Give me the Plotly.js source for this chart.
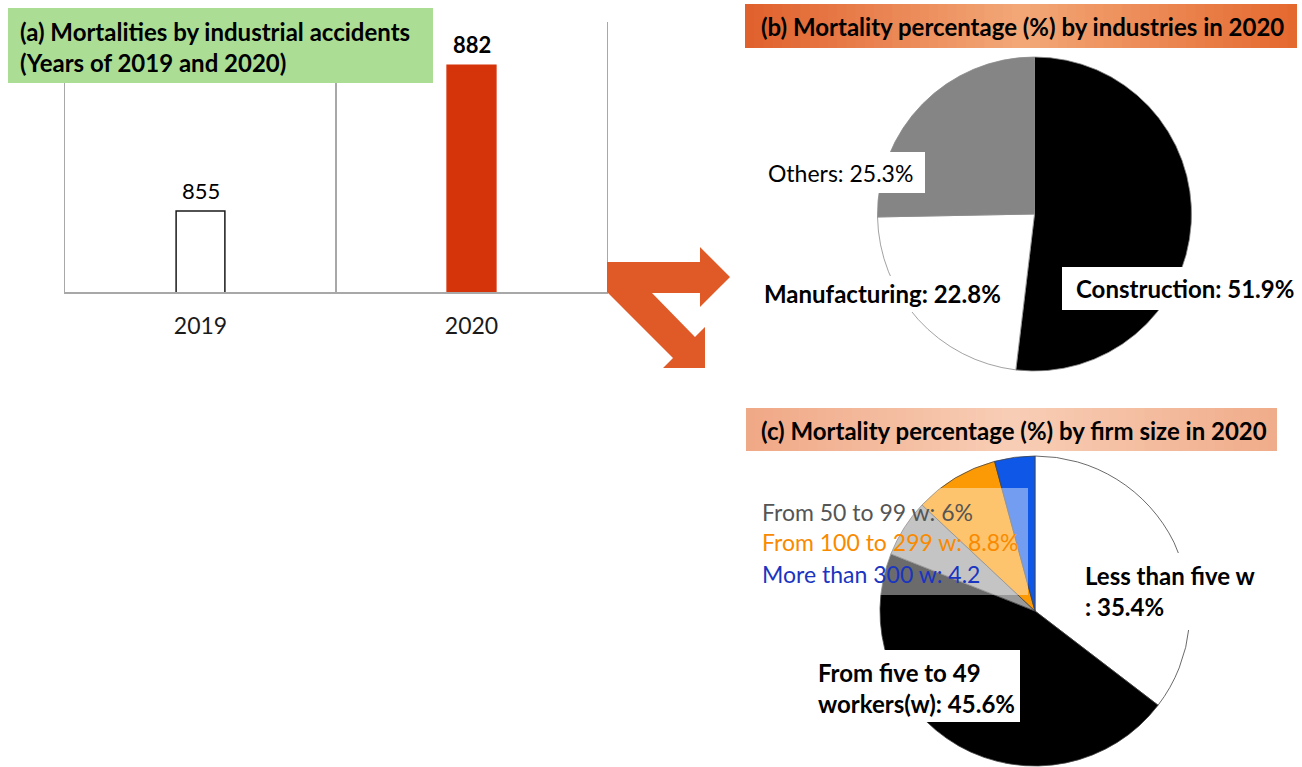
<!DOCTYPE html>
<html><head><meta charset="utf-8">
<script src="https://cdn.plot.ly/plotly-3.0.1.min.js"></script>
<style>html,body{margin:0;padding:0;background:#fff}</style>
</head><body>
<div id="chart" style="width:1302px;height:767px"></div>
<script>
// ---------- data ----------
const years = ['2019', '2020'];
const deaths = [855, 882];
const industryLabels = ['Construction', 'Manufacturing', 'Others'];
const industryPct = [51.9, 22.8, 25.3];
const sizeLabels = ['Less than five w', 'From five to 49 workers(w)', 'From 50 to 99 w', 'From 100 to 299 w', 'More than 300 w'];
const sizePct = [35.4, 45.6, 6, 8.8, 4.2];

// ---------- helpers ----------
const W = 1302, H = 767;
const px = x => x / W;
const py = y => 1 - y / H;
const FONT = 'Lato, "Open Sans", sans-serif';

function rect(x0, y0, x1, y1, color, extra) {
  return Object.assign({type: 'rect', xref: 'paper', yref: 'paper', x0: px(x0), x1: px(x1),
    y0: py(y1), y1: py(y0), fillcolor: color, line: {width: 0}, layer: 'above'}, extra || {});
}
function lerp(a, b, t) { return a + (b - a) * t; }
function gradRect(x0, y0, x1, y1, stops, n) {
  const out = [];
  for (let i = 0; i < n; i++) {
    const t = (i + 0.5) / n;
    let k = 0;
    while (k < stops.length - 2 && t > stops[k + 1][0]) k++;
    const s0 = stops[k], s1 = stops[k + 1];
    const u = (t - s0[0]) / (s1[0] - s0[0]);
    const c = [0, 1, 2].map(j => Math.round(lerp(s0[1][j], s1[1][j], Math.max(0, Math.min(1, u)))));
    const a = lerp(x0, x1, i / n), b = lerp(x0, x1, (i + 1) / n) + 0.8;
    out.push(rect(a, y0, Math.min(b, x1), y1, `rgb(${c[0]},${c[1]},${c[2]})`));
  }
  return out;
}
function label(x, y, text, opts) {
  return Object.assign({xref: 'paper', yref: 'paper', x: px(x), y: py(y), text: text,
    showarrow: false, xanchor: 'left', yanchor: 'middle', align: 'left',
    font: {family: FONT, size: 23, color: '#000'}}, opts || {});
}
function poly(pts) {
  return 'M ' + pts.map(p => px(p[0]).toFixed(5) + ',' + py(p[1]).toFixed(5)).join(' L ') + ' Z';
}

// ---------- traces ----------
const barTrace = {
  type: 'bar', x: years, y: deaths, width: 0.18,
  marker: {color: ['#ffffff', '#d5330a'], line: {color: ['#1a1a1a', '#d5330a'], width: 1.5}},
  hoverinfo: 'x+y', xaxis: 'x', yaxis: 'y'
};
const pieB = {
  type: 'pie', values: industryPct, labels: industryLabels, sort: false,
  direction: 'clockwise', rotation: 0, textinfo: 'none', hoverinfo: 'label+percent',
  domain: {x: [px(877.5), px(1191.5)], y: [py(371), py(57)]},
  marker: {colors: ['#000000', '#ffffff', '#858585'], line: {color: '#8a8a8a', width: 0.8}}
};
const pieC = {
  type: 'pie', values: sizePct, labels: sizeLabels, sort: false,
  direction: 'clockwise', rotation: 0, textinfo: 'none', hoverinfo: 'label+percent',
  domain: {x: [px(880), px(1190)], y: [py(766), py(456)]},
  marker: {colors: ['#ffffff', '#000000', '#9a9a9a', '#fb9a05', '#0f57e6'], line: {color: '#444444', width: 0.8}}
};

// ---------- shapes ----------
const shapes = [];
shapes.push(rect(8, 8, 433, 83, '#abdd95'));
shapes.push(...gradRect(745, 4, 1297, 48, [[0, [224, 96, 44]], [0.5, [243, 168, 120]], [1, [228, 104, 46]]], 60));
shapes.push(...gradRect(746, 408, 1277, 451, [[0, [240, 168, 134]], [0.5, [248, 206, 182]], [1, [240, 172, 138]]], 60));
shapes.push({type: 'path', xref: 'paper', yref: 'paper', layer: 'above', fillcolor: '#e05a28', line: {width: 0},
  path: poly([[607, 262], [700, 262], [700, 247], [730, 277], [700, 307], [700, 293], [652, 293],
              [695, 337], [705, 327], [705, 368], [663, 368], [673, 358], [607, 292]])});
shapes.push(rect(761, 152, 925, 193, '#ffffff'));          // Others
shapes.push(rect(755, 276, 1005, 312, '#ffffff'));         // Manufacturing
shapes.push(rect(1062, 267, 1289, 310, '#ffffff'));        // Construction
shapes.push(rect(755, 488, 1028, 595, 'rgba(255,255,255,0.42)')); // legend overlay
shapes.push(rect(1075, 553, 1265, 630, '#ffffff'));        // Less than five
shapes.push(rect(805, 650, 1020, 722, '#ffffff'));         // five to 49

// ---------- annotations ----------
const ann = [];
ann.push(label(18, 47, '<b>(a) Mortalities by industrial accidents<br>(Years of 2019 and 2020)</b>', {font: {family: FONT, size: 24, color: '#000'}}));
ann.push(label(1022, 26, '<b>(b) Mortality percentage (%) by industries in 2020</b>', {xanchor: 'center', font: {family: FONT, size: 24, color: '#000'}}));
ann.push(label(1014, 430, '<b>(c) Mortality percentage (%) by firm size in 2020</b>', {xanchor: 'center', font: {family: FONT, size: 24, color: '#000'}}));
deaths.forEach((v, i) => {
  ann.push({xref: 'x', yref: 'y', x: i, y: v, text: i === 1 ? '<b>' + v + '</b>' : String(v),
    showarrow: false, yanchor: 'middle', yshift: 21, font: {family: FONT, size: 22, color: '#000'}});
});
ann.push(label(766, 173, industryLabels[2] + ': ' + industryPct[2] + '%'));
ann.push(label(762, 293, '<b>' + industryLabels[1] + ': ' + industryPct[1] + '%</b>', {font: {family: FONT, size: 24, color: '#000'}}));
ann.push(label(1074, 289, '<b>' + industryLabels[0] + ': ' + industryPct[0].toFixed(1) + '%</b>', {font: {family: FONT, size: 24, color: '#000'}}));
ann.push(label(760, 512, sizeLabels[2] + ': ' + sizePct[2] + '%', {font: {family: FONT, size: 23, color: '#555555'}}));
ann.push(label(760, 542, sizeLabels[3] + ': ' + sizePct[3] + '%', {font: {family: FONT, size: 23, color: '#f98a00'}}));
ann.push(label(760, 574, sizeLabels[4] + ': ' + sizePct[4], {font: {family: FONT, size: 23, color: '#1a35c0'}}));
ann.push(label(1083, 591, '<b>' + sizeLabels[0] + '<br>: ' + sizePct[0] + '%</b>', {font: {family: FONT, size: 24, color: '#000'}}));
ann.push(label(816, 688, '<b>From five to 49<br>workers(w): ' + sizePct[1] + '%</b>', {font: {family: FONT, size: 24, color: '#000'}}));

const layout = {
  width: W, height: H, margin: {l: 0, r: 0, t: 0, b: 0},
  paper_bgcolor: '#ffffff', plot_bgcolor: 'rgba(0,0,0,0)', showlegend: false,
  font: {family: FONT},
  xaxis: {domain: [px(65), px(607)], type: 'category', range: [-0.5, 1.5], tickson: 'boundaries',
    showgrid: true, gridcolor: '#a8a8a8', gridwidth: 1.2, showline: true, linecolor: '#a8a8a8', linewidth: 1.5,
    ticks: '', ticklabelstandoff: 13, tickfont: {family: FONT, size: 23, color: '#1a1a1a'}, fixedrange: true},
  yaxis: {domain: [py(292), py(22)], range: [840, 890], showline: true, mirror: true, linecolor: '#a8a8a8',
    linewidth: 1.2, showgrid: false, zeroline: false, showticklabels: false, ticks: '', fixedrange: true},
  shapes: shapes, annotations: ann
};

Plotly.newPlot('chart', [barTrace, pieB, pieC], layout, {displayModeBar: false, staticPlot: true});
</script>
</body></html>
